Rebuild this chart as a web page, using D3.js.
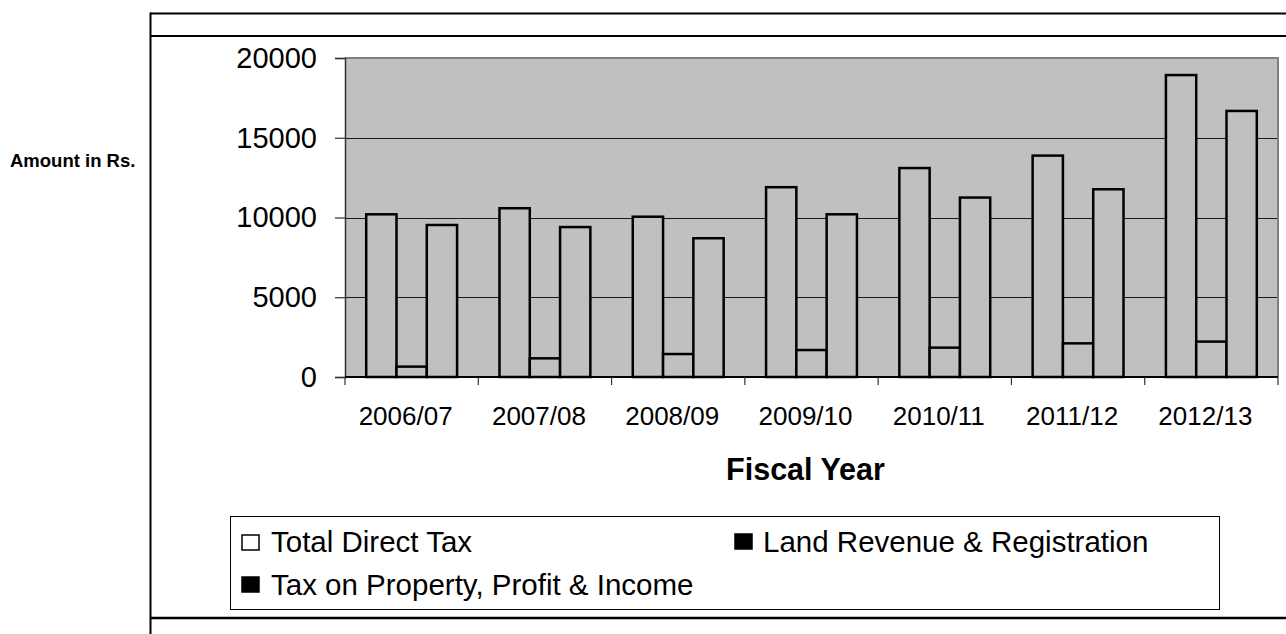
<!DOCTYPE html>
<html>
<head>
<meta charset="utf-8">
<script src="https://cdn.jsdelivr.net/npm/d3@7"></script>
<style>
  html, body { margin: 0; padding: 0; background: #fff; }
  svg { display: block; font-family: "Liberation Sans", Arial, sans-serif; }
</style>
</head>
<body>
<svg id="chart" width="1286" height="634"></svg>
<script>
const categories = ["2006/07", "2007/08", "2008/09", "2009/10", "2010/11", "2011/12", "2012/13"];
const seriesNames = ["Total Direct Tax", "Land Revenue & Registration", "Tax on Property, Profit & Income"];
const totalDirectTax = [10200, 10580, 10050, 11900, 13100, 13880, 18930];
const landRevenue = [650, 1170, 1440, 1690, 1840, 2110, 2220];
const taxOnProperty = [9530, 9400, 8700, 10200, 11250, 11770, 16680];
const yTicks = [0, 5000, 10000, 15000, 20000];

const seriesValues = [totalDirectTax, landRevenue, taxOnProperty];
const rows = categories.map((c, i) => ({
  cat: c,
  vals: seriesNames.map((s, k) => ({ key: s, value: seriesValues[k][i] }))
}));

const svg = d3.select("#chart");

// Outer frame lines
const frame = svg.append("g").attr("stroke", "#000").attr("stroke-width", 2).attr("fill", "none");
frame.append("line").attr("x1", 150).attr("x2", 1286).attr("y1", 13.5).attr("y2", 13.5);
frame.append("line").attr("x1", 150).attr("x2", 1286).attr("y1", 36).attr("y2", 36);
frame.append("line").attr("x1", 150).attr("x2", 1286).attr("y1", 618).attr("y2", 618).attr("stroke-width", 2.5);
frame.append("line").attr("x1", 150.5).attr("x2", 150.5).attr("y1", 12.5).attr("y2", 634);

const plot = { left: 345, right: 1278, top: 58, bottom: 377 };

const x0 = d3.scaleBand().domain(categories).range([plot.left, plot.right]).padding(0);
const x1 = d3.scaleBand().domain(seriesNames).range([0, x0.bandwidth()]).paddingInner(0).paddingOuter(0.7);
const y = d3.scaleLinear().domain([0, 20000]).range([plot.bottom, plot.top]);

// Plot background
svg.append("rect")
  .attr("x", plot.left).attr("y", plot.top)
  .attr("width", plot.right - plot.left).attr("height", plot.bottom - plot.top)
  .attr("fill", "#c0c0c0");

// Gridlines
svg.append("g").selectAll("line")
  .data(yTicks.filter(t => t > 0 && t < 20000))
  .join("line")
  .attr("x1", plot.left).attr("x2", plot.right)
  .attr("y1", d => Math.round(y(d)) + 0.5).attr("y2", d => Math.round(y(d)) + 0.5)
  .attr("stroke", "#1a1a1a").attr("stroke-width", 1);

// Plot border top/right
svg.append("path")
  .attr("d", `M${plot.left},${plot.top} H${plot.right} V${plot.bottom}`)
  .attr("fill", "none").attr("stroke", "#808080").attr("stroke-width", 2);

// Bars
const groups = svg.append("g").selectAll("g")
  .data(rows).join("g")
  .attr("transform", d => `translate(${x0(d.cat)},0)`);
groups.selectAll("rect")
  .data(d => d.vals).join("rect")
  .attr("x", d => x1(d.key))
  .attr("width", x1.bandwidth())
  .attr("y", d => y(d.value))
  .attr("height", d => y(0) - y(d.value))
  .attr("fill", "#c0c0c0")
  .attr("stroke", "#000")
  .attr("stroke-width", 2.5);

// Y axis
const yAxis = svg.append("g")
  .attr("transform", `translate(${plot.left},0)`)
  .call(d3.axisLeft(y).tickValues(yTicks).tickSize(10).tickPadding(18).tickFormat(d3.format("d")));
yAxis.select(".domain").attr("stroke", "#333").attr("stroke-width", 1.5);
yAxis.selectAll(".tick line").attr("stroke", "#333").attr("stroke-width", 1.2);
yAxis.selectAll(".tick text").attr("font-size", 29).attr("fill", "#000")
  .attr("font-family", "'Liberation Sans', Arial, sans-serif");

// X axis
const xg = svg.append("g");
xg.append("line").attr("x1", plot.left).attr("x2", plot.right)
  .attr("y1", plot.bottom).attr("y2", plot.bottom)
  .attr("stroke", "#000").attr("stroke-width", 2);
const boundaries = categories.map(c => x0(c)).concat([plot.right]);
xg.selectAll("line.tick").data(boundaries).join("line").attr("class", "tick")
  .attr("x1", d => d).attr("x2", d => d)
  .attr("y1", plot.bottom).attr("y2", plot.bottom + 8)
  .attr("stroke", "#333").attr("stroke-width", 1.2);
xg.selectAll("text").data(categories).join("text")
  .attr("x", d => x0(d) + x0.bandwidth() / 2 - 6)
  .attr("y", 425)
  .attr("text-anchor", "middle")
  .attr("font-size", 26)
  .attr("fill", "#000")
  .text(d => d);

// Axis titles
svg.append("text").attr("x", (plot.left + plot.right) / 2 - 6).attr("y", 480)
  .attr("text-anchor", "middle").attr("font-size", 30.5).attr("font-weight", "bold")
  .text("Fiscal Year");
svg.append("text").attr("x", 10).attr("y", 167)
  .attr("font-size", 18.5).attr("font-weight", "bold")
  .text("Amount in Rs.");

// Legend
const lg = svg.append("g");
lg.append("rect").attr("x", 230.5).attr("y", 516.5).attr("width", 989).attr("height", 93)
  .attr("fill", "#fff").attr("stroke", "#000").attr("stroke-width", 1);
const legendItems = [
  { name: seriesNames[0], sx: 242, sy: 535, tx: 271, ty: 552, fill: "#fff" },
  { name: seriesNames[1], sx: 735, sy: 534, tx: 763, ty: 552, fill: "#000" },
  { name: seriesNames[2], sx: 242, sy: 577, tx: 271, ty: 595, fill: "#000" }
];
const li = lg.selectAll("g").data(legendItems).join("g");
li.append("rect").attr("x", d => d.sx).attr("y", d => d.sy).attr("width", 17).attr("height", 15)
  .attr("fill", d => d.fill).attr("stroke", "#000").attr("stroke-width", 1.5);
li.append("text").attr("x", d => d.tx).attr("y", d => d.ty)
  .attr("font-size", 29.5).attr("fill", "#000").text(d => d.name);
</script>
</body>
</html>
